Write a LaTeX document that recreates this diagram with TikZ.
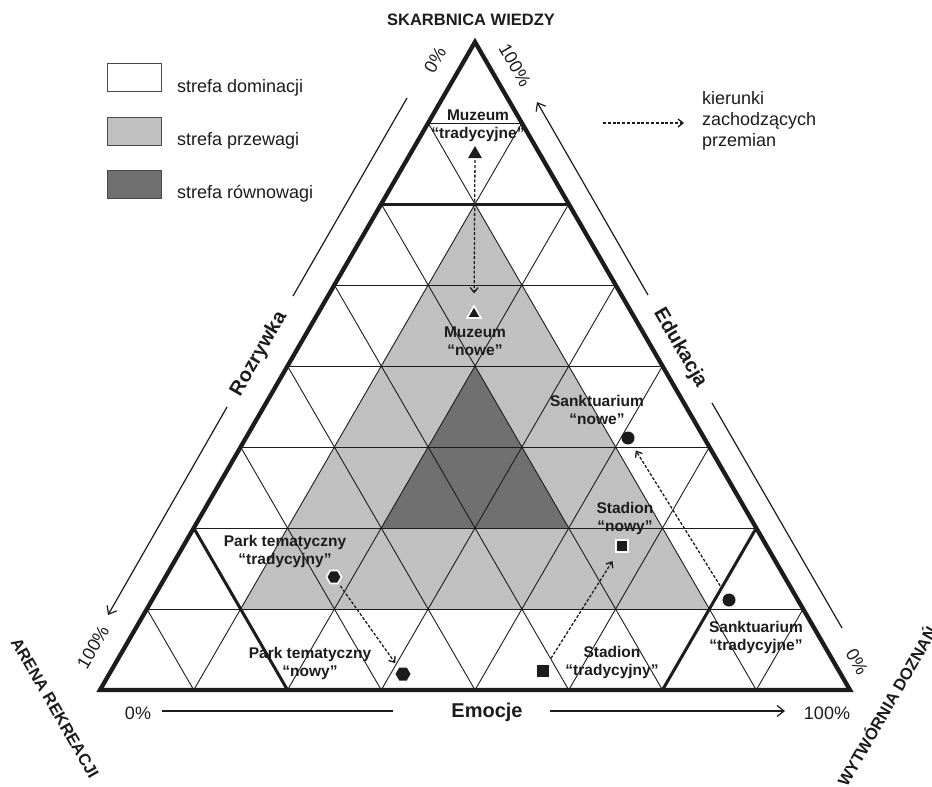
\documentclass[tikz,border=0pt]{standalone}
\usepackage{fontspec}
\setmainfont{Liberation Sans}
\usetikzlibrary{arrows.meta,shapes.geometric}
\definecolor{lgrey}{RGB}{192,192,192}
\definecolor{dgrey}{RGB}{112,112,112}
\definecolor{ink}{RGB}{28,28,28}
\begin{document}
\begin{tikzpicture}[x=1pt,y=-1pt,
  gridline/.style={draw=ink, line width=0.9pt},
  outerline/.style={draw=ink, line width=4.3pt, line join=miter},
  zoneline/.style={draw=ink, line width=3pt},
  chg/.style={draw=ink, line width=1.3pt, dash pattern=on 3pt off 1.8pt, -{Straight Barb[length=5pt,width=8pt]}},
  axline/.style={draw=ink, line width=1.2pt},
  axarrow/.style={draw=ink, line width=1.2pt, -{Straight Barb[length=7pt,width=11pt]}},
  lbl/.style={font=\fontsize{15.5}{18}\selectfont\bfseries, align=center, text=ink, inner sep=0},
  leg/.style={font=\fontsize{18}{21}\selectfont, text=ink, inner sep=0, anchor=base west},
  axlabel/.style={font=\fontsize{20}{24}\selectfont\bfseries, text=ink, inner sep=0},
  pct/.style={font=\fontsize{18}{21}\selectfont, text=ink, inner sep=0},
  cornerlbl/.style={font=\fontsize{16.5}{20}\selectfont\bfseries, text=ink, inner sep=0},
  legbox/.style={draw=ink!80, line width=0.9pt, minimum width=54pt, minimum height=28pt, inner sep=0},
  mk/.style={fill=ink, inner sep=0, draw=none},
  newmk/.style={draw=white, line width=1.6pt},
  tri/.style={mk, regular polygon, regular polygon sides=3, minimum size=16pt},
  hexa/.style={mk, regular polygon, regular polygon sides=6, minimum size=15pt},
  dotm/.style={mk, circle, minimum size=13pt},
  sqm/.style={mk, rectangle, minimum size=11.5pt}
]
\useasboundingbox (0,0) rectangle (932,787);

% lattice points
\foreach \r in {0,...,8}{
  \pgfmathtruncatemacro\m{8-\r}
  \foreach \i in {0,...,\m}{
    \coordinate (p\i-\r) at ({100+93.75*(\i+\r/2)},{690-81*\r});
  }
}

% zones
\fill[lgrey] (p1-1) -- (p6-1) -- (p1-6) -- cycle;
\fill[dgrey] (p2-2) -- (p4-2) -- (p2-4) -- cycle;

% grid
\foreach \k in {1,...,7}{
  \pgfmathtruncatemacro\n{8-\k}
  \draw[gridline] (p0-\k) -- (p\n-\k);
  \draw[gridline] (p\k-0) -- (p\k-\n);
  \draw[gridline] (p\k-0) -- (p0-\k);
}

% outlines
\draw[outerline] (p0-0) -- (p8-0) -- (p0-8) -- cycle;
\draw[zoneline] (p0-6) -- (p2-6);
\draw[zoneline] (p0-2) -- (p2-0);
\draw[zoneline] (p6-2) -- (p6-0);

% legend
\node[legbox, fill=white] (lb1) at (134,77) {};
\node[legbox, fill=lgrey] (lb2) at (134,131.5) {};
\node[legbox, fill=dgrey] (lb3) at (134,184.5) {};
\node[leg] (lt1) at (177,92) {strefa dominacji};
\node[leg] (lt2) at (177,145) {strefa przewagi};
\node[leg] (lt3) at (177,198) {strefa równowagi};
\coordinate (lga) at (603,123);
\coordinate (lgb) at (684,123);
\draw[chg] (lga) -- (lgb);
\node[leg] (lk1) at (702,104) {kierunki};
\node[leg] (lk2) at (702,125) {zachodzących};
\node[leg] (lk3) at (702,146) {przemian};

% corner labels
\node[cornerlbl] (sk) at (471,20) {SKARBNICA WIEDZY};
\node[cornerlbl, rotate=-60] (ar) at (55,708) {ARENA REKREACJI};
\node[cornerlbl, rotate=60] (wd) at (886,706) {WYTWÓRNIA DOZNAŃ};

% percentages
\node[pct] (pb0) at (138,713) {0\%};
\node[pct] (pb100) at (827,713) {100\%};
\node[pct, rotate=60] (pl100) at (93,647) {100\%};
\node[pct, rotate=60] (ptop0) at (435,60) {0\%};
\node[pct, rotate=-60] (ptop100) at (515,65) {100\%};
\node[pct, rotate=-60] (pr0) at (857,662) {0\%};

% axis arrows
\coordinate (la1) at (407,98);
\coordinate (la2) at (293,296);
\coordinate (la3) at (227,407);
\coordinate (la4) at (108,615);
\node[axlabel, rotate=60] (rozr) at (259,354) {Rozrywka};
\draw[axline] (la1) -- (la2);
\draw[axarrow] (la3) -- (la4);

\coordinate (ra1) at (537,102);
\coordinate (ra2) at (648,295);
\coordinate (ra3) at (712,403);
\coordinate (ra4) at (842,628);
\node[axlabel, rotate=-60] (eduk) at (680,348) {Edukacja};
\draw[axarrow] (ra2) -- (ra1);
\draw[axline] (ra3) -- (ra4);

\coordinate (ba1) at (162,711);
\coordinate (ba2) at (393,711);
\coordinate (ba3) at (550,711);
\coordinate (ba4) at (785,711);
\node[axlabel] (emoc) at (487,712) {Emocje};
\draw[axline] (ba1) -- (ba2);
\draw[axarrow] (ba3) -- (ba4);

% markers
\node[tri] (mt) at (475,154) {};
\node[tri, newmk] (mn) at (474,314) {};
\node[dotm] (st) at (729,600) {};
\node[dotm] (sn) at (628,438) {};
\node[sqm] (stt) at (543,671) {};
\node[sqm, newmk] (stn) at (622,546) {};
\node[hexa, newmk] (pt) at (334,577) {};
\node[hexa] (pn) at (403,674) {};

% labels
\node[lbl] (lmt) at (478,126) {Muzeum\\“tradycyjne”};
\node[lbl] (lmn) at (475,341) {Muzeum\\“nowe”};
\node[lbl] (lsn) at (597,410) {Sanktuarium\\“nowe”};
\node[lbl] (lstn) at (625,518) {Stadion\\“nowy”};
\node[lbl] (lpt) at (285,551) {Park tematyczny\\“tradycyjny”};
\node[lbl] (lpn) at (310,663) {Park tematyczny\\“nowy”};
\node[lbl] (lstt) at (612,662) {Stadion\\“tradycyjny”};
\node[lbl] (lst) at (756,637) {Sanktuarium\\“tradycyjne”};

% change arrows
\draw[chg, shorten <=2pt, shorten >=11pt] (mt) -- (mn);
\draw[chg, shorten <=3pt, shorten >=6pt] (pt) -- (pn);
\draw[chg, shorten <=8pt, shorten >=10pt] (stt) -- (stn);
\draw[chg, shorten <=10pt, shorten >=8pt] (st) -- (sn);
\end{tikzpicture}
\end{document}
